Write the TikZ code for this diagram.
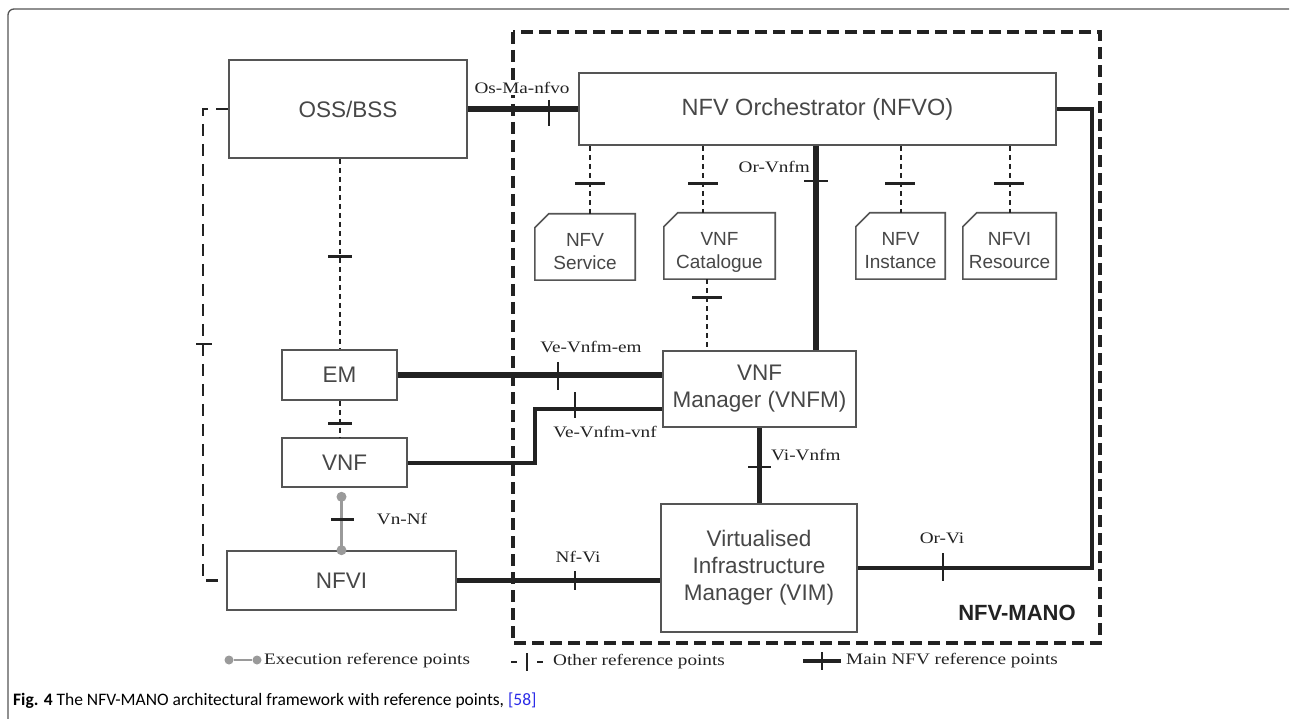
\documentclass[tikz,border=0pt]{standalone}
\usepackage{fontspec}
\usetikzlibrary{calc}
\newfontfamily\boxfont{Liberation Sans}
\newfontfamily\reffont[FakeStretch=1.2]{Liberation Serif}
\newfontfamily\capfont{Carlito}
\definecolor{ink}{HTML}{222222}
\definecolor{boxedge}{HTML}{555555}
\definecolor{boxtext}{HTML}{474747}
\definecolor{execgray}{HTML}{9A9A9A}
\definecolor{citeblue}{HTML}{2B2BE8}
% outline of a data repository: rectangle with a cut top-left corner
\newcommand\repooutline[1]{%
  \draw[draw=boxedge, line width=1.6pt] (#1.south west) -- ([yshift=-14pt]#1.north west)
    -- ([xshift=14pt]#1.north west) -- (#1.north east) -- (#1.south east) -- cycle;}
% two-line repository caption, set slightly below the middle of its box
\newcommand\repotext[2]{\raisebox{-11pt}[0pt][0pt]{\begin{tabular}{@{}c@{}}#1\\#2\end{tabular}}}
\begin{document}
\begin{tikzpicture}[x=1pt,y=-1pt,
  box/.style={draw=boxedge, line width=1.6pt, inner sep=0pt, align=center, text=boxtext,
    font=\boxfont\fontsize{22.5}{27}\selectfont},
  repo/.style={inner sep=0pt, text=boxtext, font=\boxfont\fontsize{19}{23}\selectfont},
  mainline/.style={draw=ink, line width=5.5pt},
  midline/.style={draw=ink, line width=4pt},
  otherline/.style={draw=ink, line width=2pt, dash pattern=on 5pt off 4pt},
  loopline/.style={draw=ink, line width=2.5pt, dash pattern=on 12pt off 8pt},
  manoframe/.style={draw=ink, line width=4.5pt, dash pattern=on 12pt off 6pt},
  tickmark/.style={draw=ink, line width=2.5pt},
  otick/.style={draw=ink, line width=3pt},
  execline/.style={draw=execgray, line width=3pt},
  execdot/.style={fill=execgray, circle, inner sep=0pt, minimum size=10pt},
  refl/.style={inner sep=0pt, text=ink, font=\reffont\fontsize{16}{18}\selectfont},
]
\useasboundingbox (0,0) rectangle (1291,719);
\fill[white] (0,0) rectangle (1291,719);

% figure frame
\draw[draw=boxedge, line width=1.3pt, rounded corners=6pt] (8,725) -- (8,9) -- (1289,9);

% management and orchestration domain
\draw[manoframe] (513,32) rectangle (1100,643);
\node[font=\boxfont\bfseries\fontsize{22}{24}\selectfont, text=ink] (mano) at (1017,613) {NFV-MANO};

% functional blocks
\node[box, minimum width=238, minimum height=98] (oss) at (348,109) {OSS/BSS};
\node[box, minimum width=477, minimum height=72, font=\boxfont\fontsize{23.5}{27}\selectfont] (nfvo) at (817.5,109) {NFV Orchestrator (NFVO)};
\node[box, minimum width=115, minimum height=50] (em) at (339.5,375) {EM};
\node[box, minimum width=125, minimum height=49] (vnf) at (344.5,462.5) {VNF};
\node[box, minimum width=193, minimum height=76] (vnfm) at (759.5,389) {VNF\\Manager (VNFM)};
\node[box, minimum width=196, minimum height=128] (vim) at (759,568) {Virtualised\\Infrastructure\\Manager (VIM)};
\node[box, minimum width=229, minimum height=59] (nfvi) at (341.5,580.5) {NFVI};

% data repositories
\node[repo, minimum width=100, minimum height=66] (svc) at (585,247) {\repotext{NFV}{Service}};
\node[repo, minimum width=111, minimum height=66] (vcat) at (719.5,246) {\repotext{VNF}{Catalogue}};
\node[repo, minimum width=89, minimum height=66] (ninst) at (900.5,246) {\repotext{NFV}{Instance}};
\node[repo, minimum width=93, minimum height=66] (nres) at (1009.5,246) {\repotext{NFVI}{Resource}};
\repooutline{svc}
\repooutline{vcat}
\repooutline{ninst}
\repooutline{nres}

% x positions of vertical links
\coordinate (xsvc) at (590,0);
\coordinate (xcat) at (703,0);
\coordinate (xcatb) at (707,0);
\coordinate (xor) at (816,0);
\coordinate (xri) at (1092,0);
\coordinate (jog) at (535,409);
\coordinate (xloop) at (203,0);

% Os-Ma-nfvo
\draw[mainline] (oss.east) -- (nfvo.west);
\draw[tickmark] (549,100) -- (549,126);
\node[refl, fill=white, inner sep=1pt] (lOsMa) at (522,88) {Os-Ma-nfvo};

% OSS/BSS to NFVI (other reference point)
\draw[loopline] (oss.west) -- (oss.west -| xloop) -- (nfvi.west -| xloop) -- (nfvi.west);
\draw[tickmark] (196,344) -- (212,344);

% OSS/BSS - EM - VNF
\draw[otherline] (oss.south -| em.north) -- (em.north);
\draw[otick] (328,257) -- (352,257);
\draw[otherline] (em.south) -- (em.south |- vnf.north);
\draw[otick] (328,423) -- (352,423);

% Vn-Nf execution reference point
\coordinate (vnfdot) at ($(vnf.south -| nfvi.north)+(0,9)$);
\draw[execline] (vnfdot) -- (nfvi.north);
\node[execdot] (dvnf) at (vnfdot) {};
\node[execdot] (dnfvi) at (nfvi.north) {};
\draw[otick] (331,519) -- (354,519);
\node[refl] (lVnNf) at (402,519) {Vn-Nf};

% NFVO to repositories
\draw[otherline] (nfvo.south -| xsvc) -- (svc.north -| xsvc);
\draw[otick] (575,184) -- (605,184);
\draw[otherline] (nfvo.south -| xcat) -- (vcat.north -| xcat);
\draw[otick] (688,184) -- (718,184);
\draw[otherline] (nfvo.south -| ninst.north) -- (ninst.north);
\draw[otick] (885,184) -- (915,184);
\draw[otherline] (nfvo.south -| nres.north) -- (nres.north);
\draw[otick] (994,184) -- (1024,184);
\draw[otherline] (vcat.south -| xcatb) -- (vnfm.north -| xcatb);
\draw[otick] (692,298) -- (722,298);

% Or-Vnfm
\draw[mainline] (nfvo.south -| xor) -- (vnfm.north -| xor);
\draw[tickmark] (804,181) -- (828,181);
\node[refl, anchor=east] (lOrVnfm) at (810,167) {Or-Vnfm};

% Ve-Vnfm-em
\draw[mainline] (em.east) -- (em.east -| vnfm.west);
\draw[tickmark] (558,362) -- (558,390);
\node[refl] (lVeEm) at (591,347) {Ve-Vnfm-em};

% Ve-Vnfm-vnf
\draw[midline] (vnf.east) -- (vnf.east -| jog) -- (jog) -- (jog -| vnfm.west);
\draw[tickmark] (575,392) -- (575,418);
\node[refl] (lVeVnf) at (605,432) {Ve-Vnfm-vnf};

% Vi-Vnfm
\draw[mainline] (vnfm.south) -- (vnfm.south |- vim.north);
\draw[tickmark] (748,467) -- (771,467);
\node[refl, anchor=west] (lViVnfm) at (771,455) {Vi-Vnfm};

% Or-Vi
\draw[midline] (vim.east) -- (vim.east -| xri) -- (nfvo.east -| xri) -- (nfvo.east);
\draw[tickmark] (943,553) -- (943,581);
\node[refl] (lOrVi) at (942,538) {Or-Vi};

% Nf-Vi
\draw[mainline] (nfvi.east) -- (nfvi.east -| vim.west);
\draw[tickmark] (575,571) -- (575,590);
\node[refl] (lNfVi) at (578,557) {Nf-Vi};

% legend
\node[execdot, minimum size=9pt] (lgA) at (229,660) {};
\node[execdot, minimum size=9pt] (lgB) at (257,660) {};
\draw[execline, line width=2.5pt] (lgA) -- (lgB);
\node[refl, anchor=west] (lgExec) at (264,661) {Execution reference points};
\draw[ink, line width=1.5pt] (511,662) -- (517,662);
\draw[ink, line width=2.5pt] (527,653) -- (527,671);
\draw[ink, line width=1.5pt] (537,662) -- (543,662);
\node[refl, anchor=west] (lgOther) at (553,662) {Other reference points};
\draw[ink, line width=4pt] (803,661) -- (841,661);
\draw[ink, line width=2.5pt] (822,652) -- (822,670);
\node[refl, anchor=west] (lgMain) at (846,661) {Main NFV reference points};

% caption
\node[anchor=west, inner sep=0pt, font=\capfont\fontsize{17.5}{20}\selectfont] (caption) at (13,701)
  {\textbf{Fig. 4} The NFV-MANO architectural framework with reference points, \textcolor{citeblue}{[58]}};
\end{tikzpicture}
\end{document}
